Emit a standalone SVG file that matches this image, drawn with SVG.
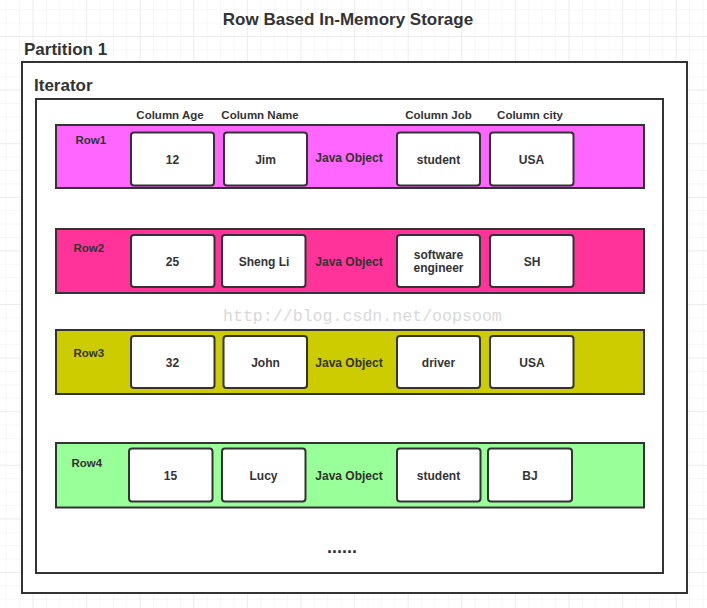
<svg xmlns="http://www.w3.org/2000/svg" width="707" height="608" viewBox="0 0 707 608">
<style>
.t{font-family:"Liberation Sans",Arial,sans-serif;font-weight:bold;fill:#333;}
.title{font-size:17px;}
.lbl{font-size:17px;}
.hdr{font-size:11.5px;text-anchor:middle;}
.rl{font-size:11.5px;}
.cv{font-size:12px;text-anchor:middle;}
.box{fill:#fff;stroke:#333;stroke-width:2;}
.row{stroke:#333;stroke-width:2;}
.cell{fill:#fff;stroke:#333;stroke-width:2;}
.wm{font-family:"Liberation Mono","Courier New",monospace;font-size:16.6px;fill:#d9d9d9;}
</style>
<defs>
<pattern id="gmin" x="5.7" y="9.2" width="13.4" height="13.4" patternUnits="userSpaceOnUse">
<path d="M0 0H13.4M0 0V13.4" fill="none" stroke="#efefef" stroke-width="1"/>
</pattern>
<pattern id="gmaj" x="32.5" y="36" width="53.6" height="53.6" patternUnits="userSpaceOnUse">
<path d="M0 0H53.6M0 0V53.6" fill="none" stroke="#e3e3e3" stroke-width="1"/>
</pattern>
</defs>
<rect width="707" height="608" fill="#fff"/>
<rect width="707" height="608" fill="url(#gmin)"/>
<rect width="707" height="608" fill="url(#gmaj)"/>

<text class="t title" x="348" y="25" text-anchor="middle">Row Based In-Memory Storage</text>

<g id="partition1">
<rect class="box" x="22" y="62" width="665" height="531"/>
<text class="t lbl" x="24" y="55">Partition 1</text>
</g>

<g id="iterator">
<rect class="box" x="36" y="99" width="627" height="474"/>
<text class="t lbl" x="34" y="91">Iterator</text>
</g>

<g id="headers">
<text class="t hdr" x="170" y="119">Column Age</text>
<text class="t hdr" x="260" y="119">Column Name</text>
<text class="t hdr" x="438.5" y="119">Column Job</text>
<text class="t hdr" x="530" y="119">Column city</text>
</g>

<text class="wm" x="223" y="321">http://blog.csdn.net/oopsoom</text>

<g id="row1">
<rect class="row" x="56" y="125" width="588" height="63" fill="#ff66ff"/>
<text class="t rl" x="75.5" y="144">Row1</text>
<rect class="cell" x="131" y="132.5" width="83" height="53" rx="3"/>
<text class="t cv" x="172.5" y="164">12</text>
<rect class="cell" x="224" y="132.5" width="83" height="53" rx="3"/>
<text class="t cv" x="265.5" y="164">Jim</text>
<text class="t cv" x="349" y="162">Java Object</text>
<rect class="cell" x="397" y="132.5" width="83" height="53" rx="3"/>
<text class="t cv" x="438.5" y="164">student</text>
<rect class="cell" x="490" y="132.5" width="83.5" height="53" rx="3"/>
<text class="t cv" x="531.5" y="164">USA</text>
</g>

<g id="row2">
<rect class="row" x="56" y="229" width="588" height="64" fill="#ff3399"/>
<text class="t rl" x="73.5" y="252">Row2</text>
<rect class="cell" x="131" y="235" width="83.5" height="52" rx="3"/>
<text class="t cv" x="172.5" y="266">25</text>
<rect class="cell" x="222" y="235" width="83.5" height="52" rx="3"/>
<text class="t cv" x="264" y="266">Sheng Li</text>
<text class="t cv" x="349" y="266">Java Object</text>
<rect class="cell" x="397" y="235" width="83" height="52" rx="3"/>
<text class="t cv" x="438.5" y="259">software</text>
<text class="t cv" x="438.5" y="272">engineer</text>
<rect class="cell" x="490" y="235" width="83.5" height="52" rx="3"/>
<text class="t cv" x="532" y="266">SH</text>
</g>

<g id="row3">
<rect class="row" x="56" y="330" width="588" height="64" fill="#cccc00"/>
<text class="t rl" x="73.5" y="356.5">Row3</text>
<rect class="cell" x="131" y="336" width="83.5" height="52" rx="3"/>
<text class="t cv" x="172.5" y="367">32</text>
<rect class="cell" x="223.5" y="336" width="83.5" height="52" rx="3"/>
<text class="t cv" x="265.5" y="367">John</text>
<text class="t cv" x="349" y="367">Java Object</text>
<rect class="cell" x="397" y="336" width="83" height="52" rx="3"/>
<text class="t cv" x="438.5" y="367">driver</text>
<rect class="cell" x="490" y="336" width="83.5" height="52" rx="3"/>
<text class="t cv" x="532" y="367">USA</text>
</g>

<g id="row4">
<rect class="row" x="56" y="443" width="588" height="64.5" fill="#99ff99"/>
<text class="t rl" x="71.5" y="466.5">Row4</text>
<rect class="cell" x="129" y="448.5" width="83.5" height="53" rx="3"/>
<text class="t cv" x="170.5" y="480">15</text>
<rect class="cell" x="222" y="448.5" width="83.5" height="53" rx="3"/>
<text class="t cv" x="263.5" y="480">Lucy</text>
<text class="t cv" x="349" y="480">Java Object</text>
<rect class="cell" x="397" y="448.5" width="83.5" height="53" rx="3"/>
<text class="t cv" x="438.5" y="480">student</text>
<rect class="cell" x="488" y="448.5" width="84" height="53" rx="3"/>
<text class="t cv" x="530" y="480">BJ</text>
</g>

<text class="t" x="327" y="553" style="font-size:18px">......</text>

<g id="connectors"></g>
</svg>
